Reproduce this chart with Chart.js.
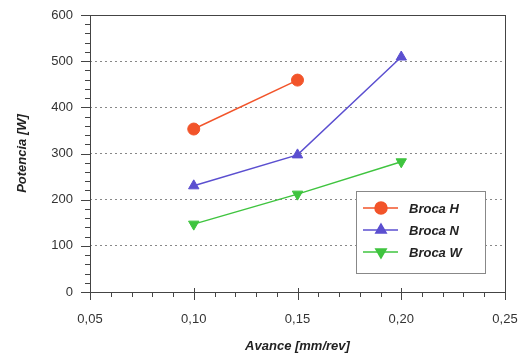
<!DOCTYPE html>
<html><head><meta charset="utf-8">
<script src="https://cdn.jsdelivr.net/npm/chart.js@4/dist/chart.umd.min.js"></script>
<style>html,body{margin:0;padding:0;background:#fff}#w{width:529px;height:358px}</style>
</head><body><div id="w"><canvas id="c" width="529" height="358"></canvas></div>
<script>
const avance = [0.10, 0.15, 0.20];
const brocaH = [353, 459];
const brocaN = [230, 297, 509];
const brocaW = [147, 212, 282];
const seriesNames = ['Broca H', 'Broca N', 'Broca W'];
const xTicks = [0.05, 0.10, 0.15, 0.20, 0.25];
const yTicks = [0, 100, 200, 300, 400, 500, 600];

const colors = ['#f2542a', '#5b4fd0', '#3fc43f'];
const styles = ['circle', 'triangle', 'triangle'];
const rots = [0, 0, 180];
const radii = [6, 6, 6];
const vals = [brocaH, brocaN, brocaW];

const datasets = vals.map((v, i) => ({
  label: seriesNames[i],
  data: v.map((y, j) => ({x: avance[j], y})),
  borderColor: colors[i], backgroundColor: colors[i],
  pointStyle: styles[i], pointRotation: rots[i], pointRadius: radii[i],
  pointBorderWidth: 1, borderWidth: 1.5, showLine: true
}));

const FONT = '"Liberation Sans", Arial, sans-serif';

const deco = {
  id: 'deco',
  afterDraw(chart) {
    const ctx = chart.ctx, a = chart.chartArea;
    const xs = chart.scales.x, ys = chart.scales.y;
    ctx.save();
    ctx.strokeStyle = '#444'; ctx.lineWidth = 1;
    ctx.strokeRect(a.left + 0.5, a.top + 0.5, a.right - a.left, a.bottom - a.top);
    ctx.beginPath();
    for (let k = 0; k <= 20; k++) {
      const v = 0.05 + k * 0.01;
      const px = Math.round(xs.getPixelForValue(v)) + 0.5;
      const major = k % 5 === 0;
      ctx.moveTo(px, a.bottom - (major ? 4 : 0));
      ctx.lineTo(px, a.bottom + (major ? 8 : 5));
    }
    for (let k = 0; k <= 30; k++) {
      const v = k * 20;
      const py = Math.round(ys.getPixelForValue(v)) + 0.5;
      const major = k % 5 === 0;
      ctx.moveTo(a.left - (major ? 9 : 5), py);
      ctx.lineTo(a.left, py);
    }
    ctx.stroke();
    const lx = 356, ly = 191, lw = 129, lh = 82;
    ctx.fillStyle = '#fff';
    ctx.fillRect(lx, ly, lw, lh);
    ctx.strokeStyle = '#888';
    ctx.strokeRect(lx + 0.5, ly + 0.5, lw, lh);
    chart.data.datasets.forEach((ds, i) => {
      const y = 208 + i * 22;
      ctx.strokeStyle = ds.borderColor; ctx.lineWidth = 1.5;
      ctx.beginPath(); ctx.moveTo(363, y); ctx.lineTo(398, y); ctx.stroke();
      ctx.fillStyle = ds.backgroundColor;
      Chart.helpers.drawPoint(ctx, {pointStyle: ds.pointStyle, rotation: ds.pointRotation, radius: 6, borderWidth: 1}, 381, y);
      ctx.fill();
      ctx.fillStyle = '#222';
      ctx.font = 'italic bold 13px ' + FONT;
      ctx.textBaseline = 'middle'; ctx.textAlign = 'left';
      ctx.fillText(ds.label, 409, y + 1);
    });
    ctx.restore();
  }
};

new Chart(document.getElementById('c'), {
  type: 'scatter',
  data: {datasets},
  options: {
    responsive: false, animation: false,
    layout: {padding: {top: 15, right: 24, left: 0, bottom: 0}},
    plugins: {legend: {display: false}, tooltip: {enabled: false}},
    scales: {
      x: {
        type: 'linear', min: 0.05, max: 0.25,
        afterBuildTicks: s => { s.ticks = xTicks.map(v => ({value: v})); },
        afterFit: s => { s.height = 66; s.paddingLeft = 0; s.paddingRight = 0; },
        grid: {display: false, drawTicks: false},
        border: {display: false},
        ticks: {padding: 20, color: '#333', font: {family: FONT, size: 13},
          callback: v => v.toFixed(2).replace('.', ',')},
        title: {display: true, text: 'Avance [mm/rev]', color: '#222',
          font: {family: FONT, size: 13, weight: 'bold', style: 'italic'}, padding: {top: 3}}
      },
      y: {
        min: 0, max: 600,
        afterBuildTicks: s => { s.ticks = yTicks.map(v => ({value: v})); },
        afterFit: s => { s.width = 90; s.paddingTop = 0; s.paddingBottom = 0; },
        grid: {drawTicks: false, color: c => (c.tick.value > 0 && c.tick.value < 600) ? '#888' : 'rgba(0,0,0,0)',
          lineWidth: 1},
        border: {display: false, dash: [2, 3]},
        ticks: {padding: 17, color: '#333', font: {family: FONT, size: 13}},
        title: {display: true, text: 'Potencia [W]', color: '#222',
          font: {family: FONT, size: 13, weight: 'bold', style: 'italic'}, padding: {top: 15, bottom: 4}}
      }
    }
  },
  plugins: [deco]
});
</script></body></html>
